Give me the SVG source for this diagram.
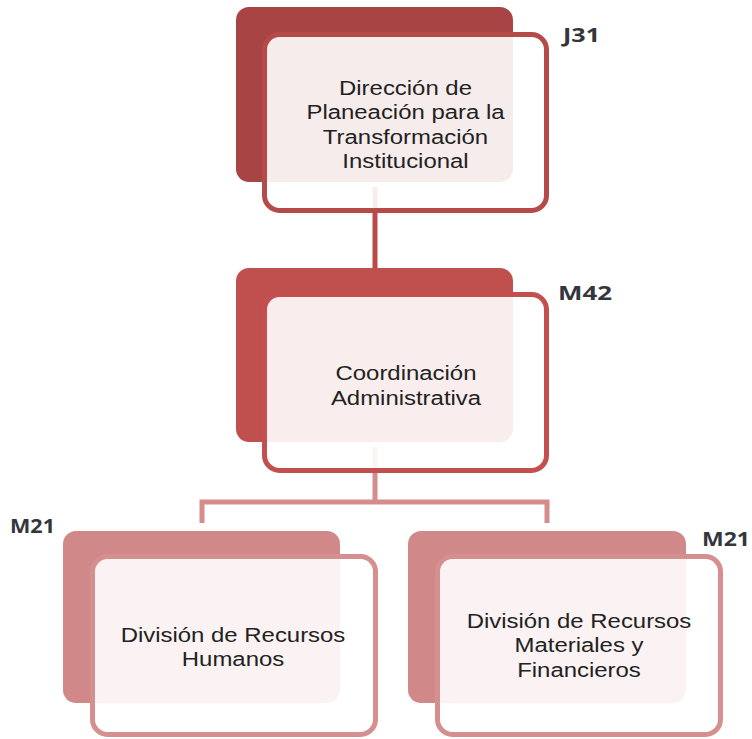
<svg xmlns="http://www.w3.org/2000/svg" width="752" height="739" viewBox="0 0 752 739">
<style>
.lbl{font-family:"Open Sans","Liberation Sans",sans-serif;font-weight:700;font-size:20px;fill:#33363d}
.txt{font-family:"Liberation Sans",Arial,sans-serif;font-size:21px;fill:#222;text-anchor:middle}
.front{fill:#fff;fill-opacity:0.9;stroke-width:5}
.c1{fill:none;stroke:#B94A48;stroke-width:5}
.c2{fill:none;stroke:#D48D8C;stroke-width:5}
</style>
<rect width="752" height="739" fill="#fff"/>
<g id="connectors">
<line class="c1" x1="375" y1="187" x2="375" y2="268"/>
<path class="c2" d="M375 447 V502 M202 523 V502 H547 V523"/>
</g>
<g id="n-j31">
<rect x="236" y="7" width="277" height="175" rx="13" fill="#A84443"/>
<rect class="front" x="264.5" y="34.5" width="282" height="176" rx="15" stroke="#B64A48"/>
<g transform="translate(405.5 0) scale(1.14 1)">
<text class="txt" x="0" y="95">Dirección de</text>
<text class="txt" x="0" y="119.5">Planeación para la</text>
<text class="txt" x="0" y="144">Transformación</text>
<text class="txt" x="0" y="168.5">Institucional</text>
</g>
<text class="lbl" x="563" y="42" textLength="37" lengthAdjust="spacingAndGlyphs">J31</text>
</g>
<g id="n-m42">
<rect x="236" y="268" width="277" height="174" rx="13" fill="#C0504D"/>
<rect class="front" x="264.5" y="294.5" width="282" height="176" rx="15" stroke="#C3504E"/>
<g transform="translate(406 0) scale(1.14 1)">
<text class="txt" x="0" y="380.5">Coordinación</text>
<text class="txt" x="0" y="405">Administrativa</text>
</g>
<text class="lbl" x="558" y="300" textLength="54" lengthAdjust="spacingAndGlyphs">M42</text>
</g>
<g id="n-m21-rh">
<rect x="63" y="531" width="277" height="172" rx="13" fill="#D08988"/>
<rect class="front" x="92.5" y="556.5" width="283" height="178" rx="15" stroke="#D48F8E"/>
<g transform="translate(233 0) scale(1.14 1)">
<text class="txt" x="0" y="642">División de Recursos</text>
<text class="txt" x="0" y="666">Humanos</text>
</g>
<text class="lbl" x="10" y="533" textLength="45" lengthAdjust="spacingAndGlyphs">M21</text>
</g>
<g id="n-m21-rmf">
<rect x="408" y="531" width="278" height="172" rx="13" fill="#D08988"/>
<rect class="front" x="437.5" y="556.5" width="283" height="178" rx="15" stroke="#D48F8E"/>
<g transform="translate(579 0) scale(1.14 1)">
<text class="txt" x="0" y="628">División de Recursos</text>
<text class="txt" x="0" y="652.5">Materiales y</text>
<text class="txt" x="0" y="677">Financieros</text>
</g>
<text class="lbl" x="702" y="546" textLength="48" lengthAdjust="spacingAndGlyphs">M21</text>
</g>
</svg>
